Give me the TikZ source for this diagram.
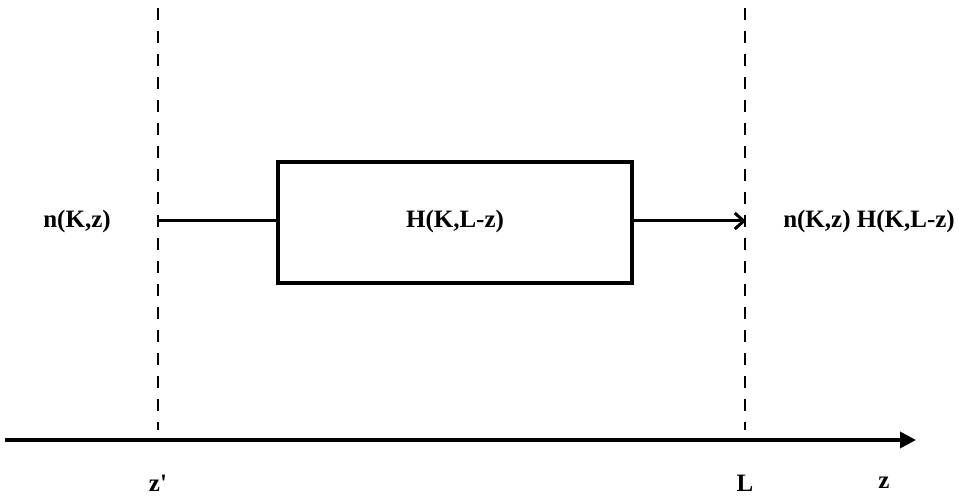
\documentclass[tikz,border=0pt]{standalone}
\usepackage{fontspec}
\setmainfont{Liberation Serif}
\usetikzlibrary{arrows.meta}
\begin{document}
\begin{tikzpicture}[x=1pt,y=-1pt,
  lbl/.style={font=\fontsize{25}{30}\selectfont\bfseries, inner sep=0pt},
  blk/.style={draw, line width=3.2pt, minimum width=354pt, minimum height=121pt, inner sep=0pt},
  guide/.style={line width=2.6pt, dash pattern=on 12pt off 11pt},
  conn/.style={line width=3pt}]
\useasboundingbox (0,0) rectangle (959,497);
% guides
\coordinate (gLt) at (158,8);
\coordinate (gLb) at (158,430);
\coordinate (gRt) at (745,8);
\coordinate (gRb) at (745,430);
\draw[guide] (gLt) -- (gLb);
\draw[guide] (gRt) -- (gRb);
% box
\node[blk] (H) at (455,222.5) {};
\node[lbl] (Ht) at (455,221) {H(K,L-z)};
% connectors
\coordinate (inL) at (158,221);
\coordinate (outR) at (746,221);
\draw[conn] (inL) -- (H.west |- inL);
\draw[conn, -{Straight Barb[length=9pt,width=16pt,line width=3pt]}] (H.east |- outR) -- (outR);
% labels
\node[lbl] (nin) at (77,221) {n(K,z)};
\node[lbl] (nout) at (869,221) {n(K,z) H(K,L-z)};
% axis
\coordinate (a0) at (5,440);
\coordinate (a1) at (916,440);
\draw[line width=3.6pt, -{Stealth[length=16pt,width=16pt,inset=0pt]}] (a0) -- (a1);
\node[lbl] (zp) at (158,483) {z\textquotesingle};
\node[lbl] (Lt) at (745,483) {L};
\node[lbl] (zt) at (884,483) {z};
\end{tikzpicture}
\end{document}
